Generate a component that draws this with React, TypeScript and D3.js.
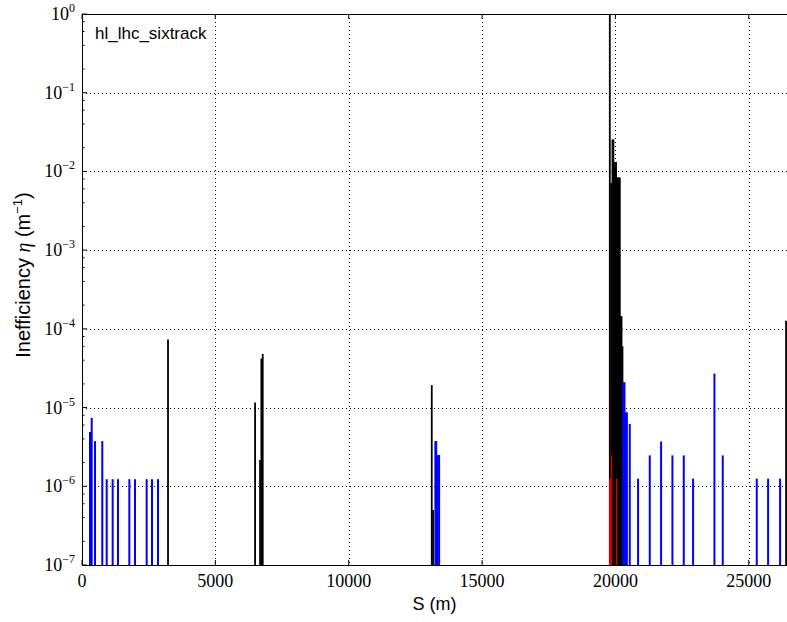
import React from 'react';
import * as d3 from 'd3';

// loss map: [S (m), inefficiency (1/m)]
const collimatorLosses: [number, number][] = [
  [3225, 7.35e-5],
  [6490, 1.16e-5], [6676, 2.15e-6], [6726, 4.2e-5], [6776, 4.8e-5],
  [13114, 1.93e-5], [13163, 5e-7],
  [19790, 1.0], [19840, 7.1e-3], [19865, 7.1e-3], [19890, 0.0255], [19925, 0.0255],
  [19965, 0.0132], [20000, 0.0132], [20025, 0.0132],
  [20065, 8.4e-3], [20100, 8.4e-3], [20135, 8.4e-3], [20165, 8.4e-3],
  [20195, 1.45e-4], [20230, 1.45e-4], [20265, 6e-5],
  [26400, 1.27e-4],
];

const coldLosses: [number, number][] = [
  [300, 4.9e-6], [364, 7.4e-6], [488, 3.75e-6], [761, 3.75e-6],
  [926, 1.23e-6], [1150, 1.23e-6], [1350, 1.23e-6], [1775, 1.23e-6], [1988, 1.23e-6],
  [2425, 1.23e-6], [2625, 1.23e-6], [2850, 1.23e-6],
  [13250, 3.75e-6], [13280, 3.75e-6], [13330, 2.5e-6], [13390, 2.5e-6],
  [20290, 2.1e-5], [20340, 2.1e-5], [20390, 8.7e-6], [20430, 8.7e-6], [20538, 6.2e-6],
  [20850, 1.25e-6], [21288, 2.47e-6], [21713, 3.7e-6], [22138, 2.47e-6], [22563, 2.47e-6],
  [22913, 1.25e-6], [23713, 2.7e-5], [24025, 2.47e-6],
  [25300, 1.25e-6], [25725, 1.25e-6], [26175, 1.25e-6],
];

const warmLosses: [number, number][] = [
  [19790, 1.25e-6], [19820, 1.25e-6], [19856, 2.47e-6], [20050, 1.25e-6],
];

const xTicks = [0, 5000, 10000, 15000, 20000, 25000];
const yExponents = [0, -1, -2, -3, -4, -5, -6, -7];
const minorSubs = [2, 4, 6, 8];

const ringLength = 26658.88;

export default function App() {
  const W = 787, H = 622;
  const m = { left: 82, top: 14, right: 793, bottom: 565 };

  const x = d3.scaleLinear().domain([0, ringLength]).range([m.left, m.right]);
  const y = d3.scaleLog().domain([1e-7, 1]).range([m.bottom, m.top]);

  const minorTicks: number[] = [];
  yExponents.slice(1).forEach(e => minorSubs.forEach(s => minorTicks.push(s * Math.pow(10, e))));

  const bars = (data: [number, number][], color: string, width: number, key: string) =>
    data.map(([s, v], i) => (
      <line key={key + i} x1={x(s)} x2={x(s)} y1={y(1e-7)} y2={y(v)}
        stroke={color} strokeWidth={width} />
    ));

  const serif = '"Liberation Serif", "DejaVu Serif", serif';
  const sans = '"Liberation Sans", Arial, sans-serif';

  return (
    <svg width={W} height={H} style={{ position: 'absolute', left: 0, top: 0, background: '#fff' }}>
      <defs>
        <clipPath id="plot">
          <rect x={m.left} y={m.top} width={m.right - m.left} height={m.bottom - m.top} />
        </clipPath>
      </defs>

      {/* grid */}
      <g stroke="#000" strokeWidth={1} strokeDasharray="1 3">
        {xTicks.slice(1).map(t => (
          <line key={'gx' + t} x1={Math.round(x(t)) + 0.5} x2={Math.round(x(t)) + 0.5} y1={m.top} y2={m.bottom} />
        ))}
        {yExponents.slice(1, -1).map(e => (
          <line key={'gy' + e} x1={m.left} x2={m.right} y1={Math.round(y(Math.pow(10, e))) + 0.5} y2={Math.round(y(Math.pow(10, e))) + 0.5} />
        ))}
      </g>

      {/* losses */}
      <g clipPath="url(#plot)">
        {bars(collimatorLosses, '#000', 1.8, 'c')}
        {bars(coldLosses, '#0000ff', 2, 'b')}
        {bars(warmLosses, '#cc0000', 1.5, 'r')}
      </g>

      {/* frame */}
      <rect x={m.left + 0.5} y={m.top + 0.5} width={m.right - m.left} height={m.bottom - m.top}
        fill="none" stroke="#000" strokeWidth={1} />

      {/* ticks */}
      <g stroke="#000" strokeWidth={1}>
        {xTicks.map(t => (
          <g key={'tx' + t}>
            <line x1={x(t)} x2={x(t)} y1={m.bottom} y2={m.bottom - 5} />
            <line x1={x(t)} x2={x(t)} y1={m.top} y2={m.top + 5} />
          </g>
        ))}
        {yExponents.map(e => (
          <line key={'ty' + e} x1={m.left} x2={m.left + 5} y1={y(Math.pow(10, e))} y2={y(Math.pow(10, e))} />
        ))}
        {minorTicks.map((t, i) => (
          <line key={'tm' + i} x1={m.left} x2={m.left + 2.5} y1={y(t)} y2={y(t)} />
        ))}
      </g>

      {/* tick labels */}
      <g fontFamily={serif} fontSize={18} fill="#000">
        {xTicks.map(t => (
          <text key={'lx' + t} x={x(t)} y={587} textAnchor="middle">{t}</text>
        ))}
        {yExponents.map(e => (
          <text key={'ly' + e} x={75} y={y(Math.pow(10, e)) + 6} textAnchor="end">
            10<tspan fontSize={12} dy={-8}>{e === 0 ? '0' : '\u2212' + Math.abs(e)}</tspan>
          </text>
        ))}
      </g>

      {/* labels */}
      <text x={95} y={39} fontFamily={sans} fontSize={17}>hl_lhc_sixtrack</text>
      <text x={(m.left + 787) / 2} y={610} textAnchor="middle" fontFamily={sans} fontSize={18}>S (m)</text>
      <text transform={`translate(30, 275) rotate(-90)`} textAnchor="middle" fontFamily={sans} fontSize={20}>
        Inefficiency <tspan fontFamily={serif} fontStyle="italic">η</tspan> (m<tspan fontSize={13} dy={-8}>{'\u22121'}</tspan><tspan dy={8}>)</tspan>
      </text>
    </svg>
  );
}
